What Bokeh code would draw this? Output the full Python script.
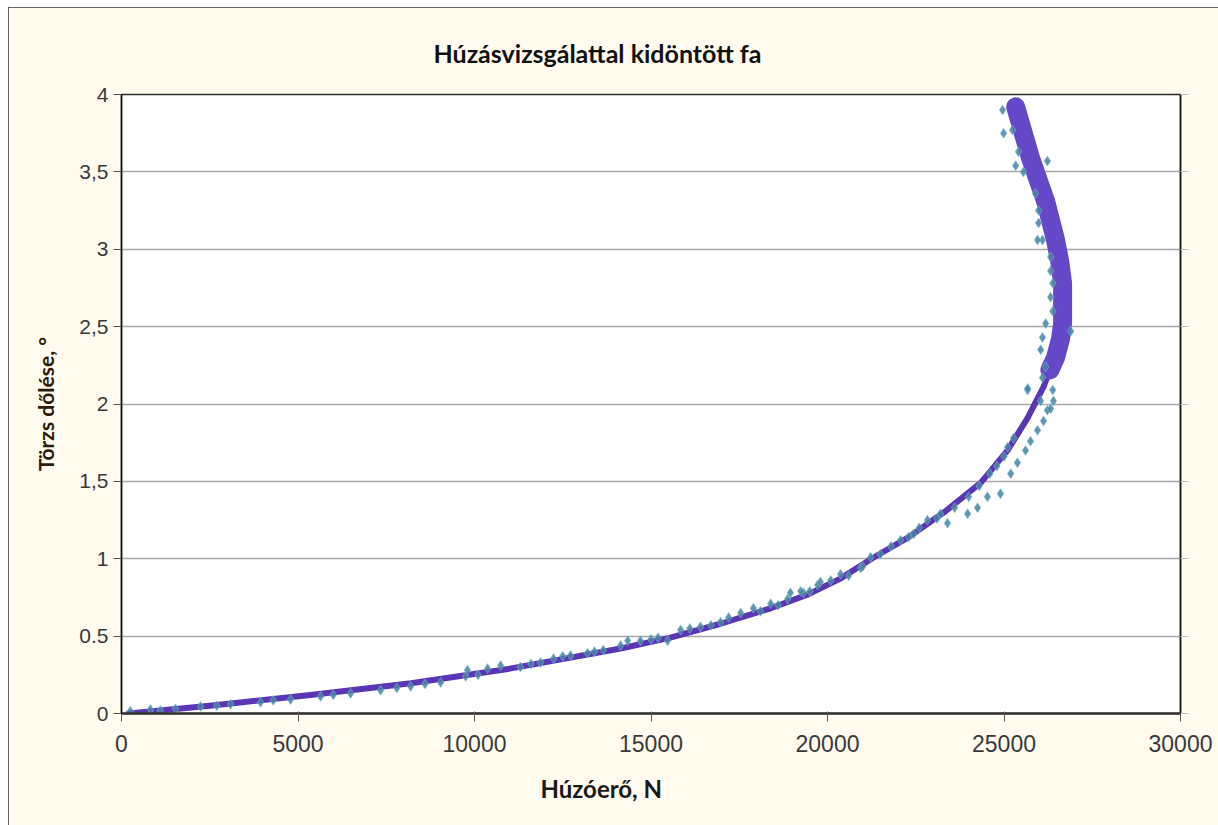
from bokeh.plotting import figure
from bokeh.models import Range1d, LinearAxis, FixedTicker, Title
from bokeh.embed import file_html
from bokeh.resources import INLINE

title_text = "Húzásvizsgálattal kidöntött fa"
x_label_text = "Húzóerő, N"
y_label_text = "Törzs dőlése, °"

x_ticks = [0, 5000, 10000, 15000, 20000, 25000, 30000]
x_tick_labels = ["0", "5000", "10000", "15000", "20000", "25000", "30000"]
y_ticks = [0, 0.5, 1, 1.5, 2, 2.5, 3, 3.5, 4]
y_tick_labels = ["0", "0.5", "1", "1,5", "2", "2,5", "3", "3,5", "4"]

# fitted curve (purple), lower thin part
fit_low_force = [200, 2500, 5350, 8200, 11000, 14140, 15550, 16970, 18390, 19450,
                 20350, 21250, 22300, 23300, 24340, 25100, 25670, 26120, 26300]
fit_low_angle = [0.0, 0.05, 0.12, 0.195, 0.29, 0.42, 0.49, 0.58, 0.68, 0.77,
                 0.87, 1.00, 1.14, 1.30, 1.49, 1.70, 1.91, 2.11, 2.22]
# fitted curve (purple), upper thick part
fit_up_force = [26300, 26460, 26600, 26660, 26660, 26580, 26460, 26180, 25750, 25330]
fit_up_angle = [2.22, 2.30, 2.42, 2.52, 2.78, 2.92, 3.06, 3.31, 3.59, 3.92]

# measured points
meas_force = [250, 820, 1530, 2240, 3090, 3940, 4790, 5640, 6490, 7340,
              8190, 9040, 9750, 9800, 10370, 10740, 11300, 11870, 12240, 12720,
              13200, 13650, 14140, 14340, 14700, 15000, 15470, 15840, 16400, 16970,
              17540, 17900, 18390, 18870, 19320, 19720, 19240, 18950, 19800, 20090,
              20370, 20940, 21220, 21500, 21800, 22070, 22440, 22600, 22830, 23100,
              23200, 23400, 23600, 23970, 24000, 24250, 24300, 24530, 24600, 24800,
              24900, 25000, 25100, 25190, 25270, 25380, 25610, 25750, 25950, 26120,
              26230, 26400, 25670, 26320, 26040, 26380, 25670, 26090, 26180, 26040,
              26890, 26090, 26180, 26380, 26320, 26380, 26320, 26320, 26090, 25950,
              25980, 25980, 25890, 25550, 26230, 25330, 25410, 25240, 24990, 24960,
              1100, 2700, 4300, 6000, 7800, 8600, 10100, 11600, 12500, 13400,
              15200, 16100, 16700, 17200, 18100, 18600, 19500, 20600, 21000, 22300]
meas_angle = [0.015, 0.026, 0.03, 0.045, 0.06, 0.072, 0.09, 0.11, 0.13, 0.15,
              0.175, 0.20, 0.24, 0.28, 0.29, 0.31, 0.30, 0.33, 0.355, 0.375,
              0.39, 0.41, 0.44, 0.47, 0.47, 0.48, 0.47, 0.54, 0.56, 0.59,
              0.65, 0.68, 0.71, 0.74, 0.78, 0.83, 0.79, 0.78, 0.85, 0.86,
              0.90, 0.94, 1.01, 1.03, 1.08, 1.12, 1.16, 1.20, 1.25, 1.26,
              1.29, 1.23, 1.33, 1.29, 1.40, 1.33, 1.47, 1.40, 1.55, 1.60,
              1.42, 1.66, 1.72, 1.55, 1.78, 1.62, 1.70, 1.76, 1.83, 1.89,
              1.96, 2.02, 2.09, 1.97, 2.02, 2.09, 2.10, 2.17, 2.24, 2.35,
              2.47, 2.43, 2.52, 2.60, 2.69, 2.78, 2.86, 2.95, 3.06, 3.06,
              3.17, 3.25, 3.36, 3.50, 3.57, 3.54, 3.63, 3.77, 3.75, 3.90,
              0.02, 0.05, 0.085, 0.12, 0.165, 0.19, 0.25, 0.32, 0.37, 0.40,
              0.49, 0.55, 0.57, 0.62, 0.66, 0.70, 0.79, 0.89, 0.95, 1.14]

p = figure(width=1210, height=818, output_backend="svg", toolbar_location=None,
           x_range=Range1d(0, 30000), y_range=Range1d(0, 4),
           min_border_left=113, min_border_right=38, min_border_top=87,
           min_border_bottom=112, margin=(7, 0, 0, 8))
p.styles = {"outline": "1.5px solid #333333", "outline-offset": "-1px"}
p.background_fill_color = "white"
p.border_fill_color = "#FFFBEF"
p.outline_line_color = "#2b2b2b"
p.outline_line_width = 1.5

p.title.text = title_text
p.title.align = "left"
p.title.offset = 312
p.title.standoff = 54
p.title.text_font = "Lato"
p.title.text_font_style = "bold"
p.title.text_font_size = "25px"
p.title.text_color = "#111111"

p.xgrid.visible = False
p.ygrid.ticker = FixedTicker(ticks=y_ticks)
p.ygrid.grid_line_color = "#a8a8a8"
p.ygrid.grid_line_width = 1.5

for ax in p.xaxis:
    ax.ticker = FixedTicker(ticks=x_ticks)
    ax.major_label_overrides = {t: s for t, s in zip(x_ticks, x_tick_labels)}
    ax.axis_line_color = "#333333"
    ax.axis_line_width = 2.5
    ax.major_tick_out = 8
    ax.major_tick_in = 2
    ax.major_tick_line_color = "#555555"
    ax.minor_tick_line_color = None
    ax.major_label_standoff = 13
    ax.major_label_text_font = "Liberation Sans"
    ax.major_label_text_font_size = "23px"
    ax.major_label_text_color = "#3a3a3a"

for ax in p.yaxis:
    ax.ticker = FixedTicker(ticks=y_ticks)
    ax.major_label_overrides = {t: s for t, s in zip(y_ticks, y_tick_labels)}
    ax.axis_line_color = "#111111"
    ax.axis_line_width = 1.5
    ax.major_tick_out = 8
    ax.major_tick_in = 0
    ax.major_tick_line_color = "#555555"
    ax.minor_tick_line_color = None
    ax.major_label_standoff = 5
    ax.major_label_text_font = "Liberation Sans"
    ax.major_label_text_font_size = "21px"
    ax.major_label_text_color = "#3a3a3a"
    ax.axis_label = y_label_text
    ax.axis_label_standoff = 18
    ax.axis_label_text_font = "Lato"
    ax.axis_label_text_font_style = "bold"
    ax.axis_label_text_font_size = "21px"
    ax.axis_label_text_color = "#2a1a08"

x_title = Title(text=x_label_text, align="left", offset=419, standoff=35,
                vertical_align="bottom",
                text_font="Lato", text_font_style="bold", text_font_size="24px",
                text_color="#1a1a1a")
p.add_layout(x_title, "below")

right_ax = LinearAxis(ticker=FixedTicker(ticks=y_ticks),
                      major_label_overrides={t: "" for t in y_ticks},
                      axis_line_color="#111111", axis_line_width=1.5,
                      major_tick_out=8, major_tick_in=0,
                      major_tick_line_color="#c0c0c0", minor_tick_line_color=None)
p.add_layout(right_ax, "right")

p.line(fit_low_force, fit_low_angle, line_color="#5b36b4", line_width=6,
       line_cap="round", line_join="round")
p.line(fit_up_force, fit_up_angle, line_color="#6548c7", line_width=19,
       line_cap="round", line_join="round")
p.scatter(meas_force, meas_angle, marker="diamond", size=10,
          fill_color="#4a82a0", line_color="#7fc3de", line_width=0.6, alpha=0.85)

open("out.html", "w").write(file_html(p, INLINE))
